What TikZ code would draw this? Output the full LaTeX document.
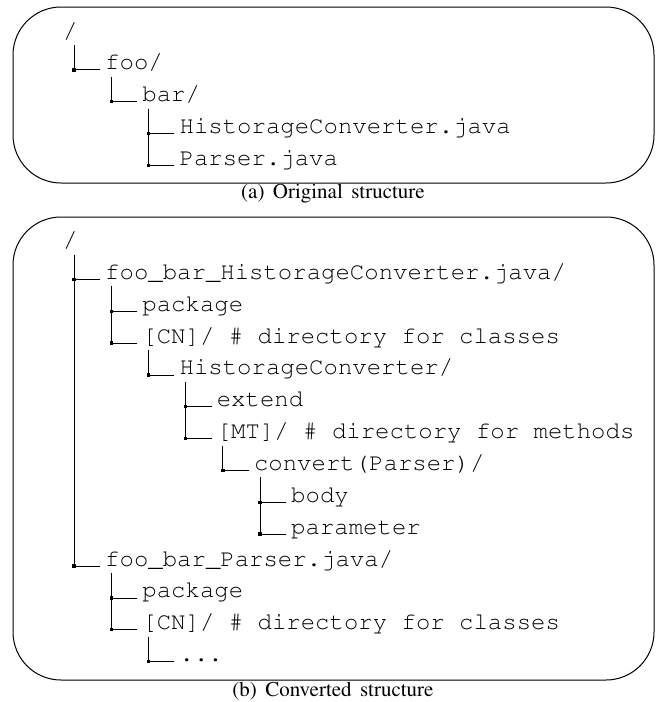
\documentclass[tikz,border=0pt]{standalone}
\usepackage[T1]{fontenc}
\usepackage{times}
\usetikzlibrary{calc}

\tikzset{
  treeline/.style={line width=0.7pt, black},
  junction/.style={fill=black},
  entry/.style={anchor=base west, inner sep=0pt, font=\fontsize{24}{28}\selectfont\ttfamily},
  rootentry/.style={entry},
  caption/.style={anchor=base, inner sep=0pt, font=\fontsize{21}{25}\selectfont\rmfamily},
  frame/.style={draw, line width=1pt, rounded corners=48pt},
}

% #1 node name, #2 depth, #3 baseline y, #4 text
\newcommand{\direntry}[4]{%
  \node[entry] (#1) at ({105+37.2*(#2-1)}, #3) {#4};
  \coordinate (j#1) at ({74+37.2*(#2-1)}, #3);}
% #1 parent, #2 child
\newcommand{\dirbranch}[2]{%
  \draw[treeline] ([yshift=-7pt]#1.base -| j#2) -- (j#2) -- ([xshift=-5pt]#2.base west);
  \fill[junction] (j#2) +(-1.7,-1.7) rectangle +(1.7,1.7);}
\newcommand{\capgap}{\hspace{0.4em}}

\begin{document}
\begin{tikzpicture}[x=1pt,y=-1pt]
\useasboundingbox (0,0) rectangle (659,702);

% frames
\draw[frame] (13,7) rectangle (654,183);
\draw[frame] (13,217) rectangle (654,680);

% original layout
\def\ya{38}\def\sa{31.8}
\node[rootentry] (a0) at (63,\ya) {/};
\direntry{a1}{1}{\ya+\sa*1}{foo/}
\direntry{a2}{2}{\ya+\sa*2}{bar/}
\direntry{a3}{3}{\ya+\sa*3}{HistorageConverter.java}
\direntry{a4}{3}{\ya+\sa*4}{Parser.java}
\dirbranch{a0}{a1}
\dirbranch{a1}{a2}
\dirbranch{a2}{a3}
\dirbranch{a2}{a4}

% converted layout
\def\yb{247.5}\def\sb{31.85}
\node[rootentry] (b0) at (63,\yb) {/};
\direntry{b1}{1}{\yb+\sb*1}{foo\_bar\_HistorageConverter.java/}
\direntry{b2}{2}{\yb+\sb*2}{package}
\direntry{b3}{2}{\yb+\sb*3}{[CN]/ \# directory for classes}
\direntry{b4}{3}{\yb+\sb*4}{HistorageConverter/}
\direntry{b5}{4}{\yb+\sb*5}{extend}
\direntry{b6}{4}{\yb+\sb*6}{[MT]/ \# directory for methods}
\direntry{b7}{5}{\yb+\sb*7}{convert(Parser)/}
\direntry{b8}{6}{\yb+\sb*8}{body}
\direntry{b9}{6}{\yb+\sb*9}{parameter}
\direntry{b10}{1}{\yb+\sb*10}{foo\_bar\_Parser.java/}
\direntry{b11}{2}{\yb+\sb*11}{package}
\direntry{b12}{2}{\yb+\sb*12}{[CN]/ \# directory for classes}
\direntry{b13}{3}{\yb+\sb*13}{...}
\dirbranch{b0}{b1}
\dirbranch{b1}{b2}
\dirbranch{b1}{b3}
\dirbranch{b3}{b4}
\dirbranch{b4}{b5}
\dirbranch{b4}{b6}
\dirbranch{b6}{b7}
\dirbranch{b7}{b8}
\dirbranch{b7}{b9}
\dirbranch{b0}{b10}
\dirbranch{b10}{b11}
\dirbranch{b10}{b12}
\dirbranch{b12}{b13}

% captions
\node[caption] (capa) at (333,198) {(a)\capgap Original\capgap structure};
\node[caption] (capb) at (333,696) {(b)\capgap Converted\capgap structure};
\end{tikzpicture}
\end{document}
